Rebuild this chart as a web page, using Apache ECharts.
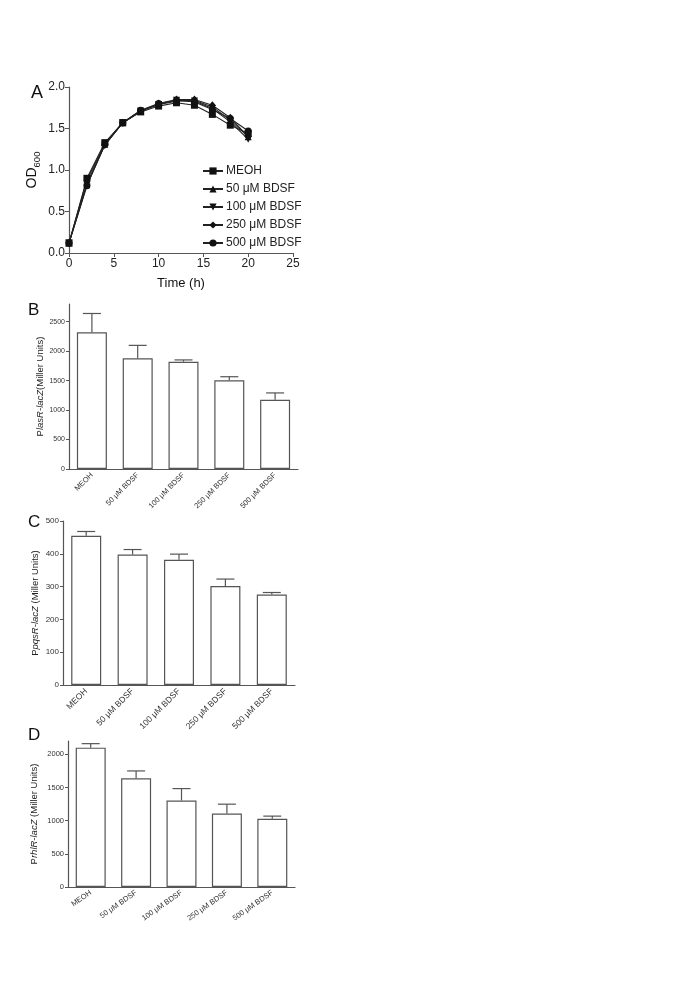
<!DOCTYPE html>
<html><head><meta charset="utf-8">
<script src="https://cdn.jsdelivr.net/npm/echarts@6/dist/echarts.min.js"></script>
<style>html,body{margin:0;padding:0;background:#fff;}#c{width:685px;height:989px;}</style>
</head><body><div id="c"></div>
<script>
// Panel A: growth curves
const timeH = [0, 2, 4, 6, 8, 10, 12, 14, 16, 18, 20];
const seriesNames = ['MEOH', '50 μM BDSF', '100 μM BDSF', '250 μM BDSF', '500 μM BDSF'];
const odMEOH = [0.12, 0.90, 1.33, 1.57, 1.70, 1.77, 1.81, 1.78, 1.67, 1.54, 1.44];
const od50   = [0.12, 0.88, 1.31, 1.57, 1.71, 1.79, 1.83, 1.84, 1.76, 1.60, 1.40];
const od100  = [0.12, 0.84, 1.30, 1.57, 1.71, 1.79, 1.84, 1.83, 1.74, 1.58, 1.37];
const od250  = [0.12, 0.82, 1.30, 1.57, 1.71, 1.80, 1.85, 1.85, 1.78, 1.63, 1.40];
const od500  = [0.12, 0.81, 1.31, 1.57, 1.72, 1.80, 1.84, 1.82, 1.73, 1.62, 1.47];
// Bar panels
const barCats = ['MEOH', '50 μM BDSF', '100 μM BDSF', '250 μM BDSF', '500 μM BDSF'];
const lasR = [2319, 1878, 1821, 1504, 1176];
const lasRErr = [320, 220, 30, 62, 115];
const pqsR = [455, 398, 382, 302, 276];
const pqsRErr = [13, 15, 17, 21, 6];
const rhlR = [2100, 1639, 1303, 1108, 1028];
const rhlRErr = [60, 110, 180, 140, 40];

const FONT = 'Liberation Sans, Arial, sans-serif';
const AX = '#555';
const chart = echarts.init(document.getElementById('c'), null, {renderer: 'canvas'});

const odSeries = [odMEOH, od50, od100, od250, od500];
const symbols = ['rect', 'triangle', 'path://M0,0 L10,0 L5,9 Z', 'diamond', 'circle'];
const symSizes = [7, 7, 7, [7, 8], 7];

function barAxisY(gridIndex, max, interval, nameRich, gap, fs) {
  return {
    type: 'value', gridIndex, min: 0, max, interval,
    axisLine: {show: true, lineStyle: {color: AX, width: 1.2}},
    axisTick: {show: true, length: 3, lineStyle: {color: AX}},
    splitLine: {show: false},
    axisLabel: {fontSize: fs, color: '#333', fontFamily: FONT, margin: 4,
      showMaxLabel: max % interval === 0, formatter: v => String(v)},
    name: nameRich, nameLocation: 'middle', nameRotate: 90, nameGap: gap,
    nameTextStyle: {color: '#222', fontFamily: FONT,
      rich: {a: {fontSize: 9.5, fontFamily: FONT, color: '#222'}, b: {fontSize: 9.5, fontStyle: 'italic', fontFamily: FONT, color: '#222'}}}
  };
}
function barAxisX(gridIndex, rot, fs) {
  return {
    type: 'category', gridIndex, data: barCats,
    axisLine: {show: true, lineStyle: {color: AX, width: 1.2}},
    axisTick: {show: false},
    axisLabel: {rotate: rot, fontSize: fs, color: '#333', fontFamily: FONT, margin: 5, interval: 0}
  };
}
function barSeries(idx, vals) {
  return {type: 'bar', xAxisIndex: idx, yAxisIndex: idx, data: vals, barWidth: 30,
    itemStyle: {color: '#fff', borderColor: AX, borderWidth: 1.2}, z: 2};
}
function errSeries(idx, vals, errs) {
  return {type: 'custom', xAxisIndex: idx, yAxisIndex: idx, z: 3,
    data: vals.map((v, i) => [i, v, errs[i]]),
    renderItem: function (params, api) {
      const p0 = api.coord([api.value(0), api.value(1)]);
      const p1 = api.coord([api.value(0), api.value(1) + api.value(2)]);
      const st = {stroke: AX, lineWidth: 1.2};
      return {type: 'group', children: [
        {type: 'line', shape: {x1: p0[0], y1: p0[1], x2: p1[0], y2: p1[1]}, style: st},
        {type: 'line', shape: {x1: p1[0] - 9, y1: p1[1], x2: p1[0] + 9, y2: p1[1]}, style: st}
      ]};
    }};
}

const option = {
  animation: false,
  backgroundColor: '#fff',
  title: [
    {text: 'A', left: 26, top: 79, textStyle: {fontSize: 18, fontWeight: 'normal', fontFamily: FONT, color: '#111'}},
    {text: 'B', left: 23, top: 297, textStyle: {fontSize: 17, fontWeight: 'normal', fontFamily: FONT, color: '#111'}},
    {text: 'C', left: 23, top: 509, textStyle: {fontSize: 17, fontWeight: 'normal', fontFamily: FONT, color: '#111'}},
    {text: 'D', left: 23, top: 722, textStyle: {fontSize: 17, fontWeight: 'normal', fontFamily: FONT, color: '#111'}}
  ],
  legend: {
    data: seriesNames, orient: 'vertical', left: 197, top: 160,
    itemWidth: 20, itemHeight: 9, itemGap: 6,
    textStyle: {fontSize: 12, fontFamily: FONT, color: '#222', padding: [0, 0, 0, -2]}
  },
  grid: [
    {left: 69, top: 87, width: 224, height: 166},
    {left: 69, top: 304, width: 229, height: 165},
    {left: 63, top: 521, width: 232, height: 164},
    {left: 68, top: 741, width: 227, height: 146}
  ],
  xAxis: [
    {type: 'value', gridIndex: 0, min: 0, max: 25, interval: 5,
     axisLine: {show: true, onZero: false, lineStyle: {color: AX, width: 1.2}},
     axisTick: {show: true, length: 4, lineStyle: {color: AX}},
     splitLine: {show: false},
     axisLabel: {fontSize: 12, color: '#222', fontFamily: FONT, margin: 5},
     name: 'Time (h)', nameLocation: 'middle', nameGap: 24,
     nameTextStyle: {fontSize: 13, color: '#111', fontFamily: FONT}},
    barAxisX(1, 45, 7.5),
    barAxisX(2, 45, 8.5),
    barAxisX(3, 35, 7.5)
  ],
  yAxis: [
    {type: 'value', gridIndex: 0, min: 0, max: 2, interval: 0.5,
     axisLine: {show: true, lineStyle: {color: AX, width: 1.2}},
     axisTick: {show: true, length: 4, lineStyle: {color: AX}},
     splitLine: {show: false},
     axisLabel: {fontSize: 12, color: '#222', fontFamily: FONT, margin: 4, formatter: v => v.toFixed(1)},
     name: '{a|OD}{s|600}', nameLocation: 'middle', nameRotate: 90, nameGap: 30,
     nameTextStyle: {rich: {a: {fontSize: 14, fontFamily: FONT, color: '#111', lineHeight: 18, verticalAlign: 'bottom'},
                            s: {fontSize: 9.5, fontFamily: FONT, color: '#111', lineHeight: 18, verticalAlign: 'bottom', padding: [0, 0, -3, 0]}}}},
    barAxisY(1, 2800, 500, '{a|P}{b|lasR-lacZ}{a|(Miller Units)}', 24, 7),
    barAxisY(2, 500, 100, '{a|P}{b|pqsR-lacZ}{a| (Miller Units)}', 23, 8),
    barAxisY(3, 2200, 500, '{a|P}{b|rhlR-lacZ}{a| (Miller Units)}', 29, 7.5)
  ],
  series: [
    ...odSeries.map((arr, i) => ({
      type: 'line', name: seriesNames[i], xAxisIndex: 0, yAxisIndex: 0,
      data: timeH.map((t, j) => [t, arr[j]]),
      symbol: symbols[i], symbolSize: symSizes[i], showSymbol: true,
      lineStyle: {color: '#222', width: 1.1}, itemStyle: {color: '#111'}
    })),
    barSeries(1, lasR), errSeries(1, lasR, lasRErr),
    barSeries(2, pqsR), errSeries(2, pqsR, pqsRErr),
    barSeries(3, rhlR), errSeries(3, rhlR, rhlRErr)
  ]
};
chart.setOption(option);
</script></body></html>
